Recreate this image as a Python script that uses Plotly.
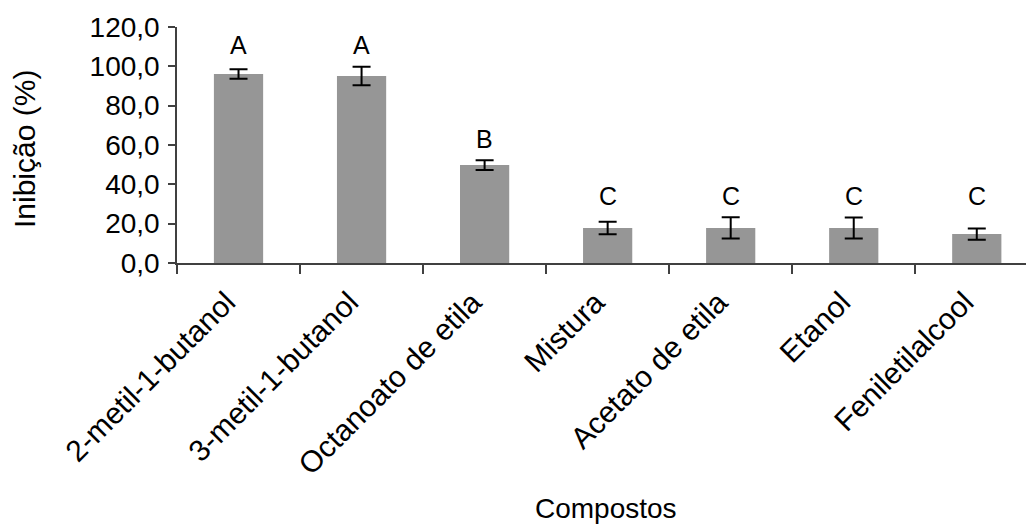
import plotly.graph_objects as go

# Inhibition (%) per compound, with standard deviation and significance group
compostos = ["2-metil-1-butanol", "3-metil-1-butanol", "Octanoato de etila",
             "Mistura", "Acetato de etila", "Etanol", "Feniletilalcool"]
inibicao = [96.1, 95.1, 49.8, 17.8, 17.8, 17.8, 14.7]
desvio = [2.4, 4.7, 2.5, 3.2, 5.4, 5.3, 2.9]
grupos = ["A", "A", "B", "C", "C", "C", "C"]
y_ticks = [0, 20, 40, 60, 80, 100, 120]

FONT = "Liberation Sans, Arial, sans-serif"

fig = go.Figure()
fig.add_trace(go.Bar(
    x=compostos,
    y=inibicao,
    marker=dict(color="rgb(150,150,150)", line=dict(width=0)),
    error_y=dict(type="data", array=desvio, visible=True,
                 color="black", thickness=2, width=9),
))

# group letters sit above the tallest error bar of their group
topo = {}
for g, m, d in zip(grupos, inibicao, desvio):
    topo[g] = max(topo.get(g, 0), m + d)
for c, g in zip(compostos, grupos):
    fig.add_annotation(x=c, y=topo[g] + 11, text=g, showarrow=False,
                       xref="x", yref="y", yanchor="middle",
                       font=dict(family=FONT, size=25, color="black"))

W, H = 1026, 525
L, R, T, B = 177, 0, 27, 262
plot_w = W - L - R
plot_h = H - T - B

fig.add_annotation(text="Inibição (%)", textangle=-90, showarrow=False,
                   xref="paper", yref="paper",
                   x=(24 - L) / plot_w, y=(H - B - 149) / plot_h,
                   xanchor="center", yanchor="middle",
                   font=dict(family=FONT, size=30, color="black"))
fig.add_annotation(text="Compostos", showarrow=False,
                   xref="paper", yref="paper",
                   x=(606 - L) / plot_w, y=(H - B - 508) / plot_h,
                   xanchor="center", yanchor="middle",
                   font=dict(family=FONT, size=28, color="black"))

fig.update_layout(
    width=W, height=H,
    margin=dict(l=L, r=R, t=T, b=B, pad=0),
    plot_bgcolor="white", paper_bgcolor="white",
    separators=",.",
    bargap=0.6,
    showlegend=False,
    font=dict(family=FONT, size=24, color="black"),
)
fig.update_xaxes(
    type="category",
    range=[-0.5, 6.4],
    tickangle=-45,
    tickson="boundaries",
    ticks="outside", ticklen=9, tickcolor="#404040", tickwidth=1.5,
    showline=True, linecolor="#404040", linewidth=1.5,
    showgrid=False, zeroline=False, automargin=False,
    ticklabelstandoff=8,
    ticklabelshift=-12,
    tickfont=dict(family=FONT, size=30, color="black"),
)
fig.update_yaxes(
    range=[0, 120],
    tickvals=y_ticks,
    tickformat=".1f",
    ticks="outside", ticklen=7, tickcolor="#404040", tickwidth=1.5,
    showline=True, linecolor="#404040", linewidth=1.5,
    showgrid=False, zeroline=False, automargin=False,
    ticklabelstandoff=3,
    tickfont=dict(family=FONT, size=28, color="black"),
)

fig.write_html("out.html")
